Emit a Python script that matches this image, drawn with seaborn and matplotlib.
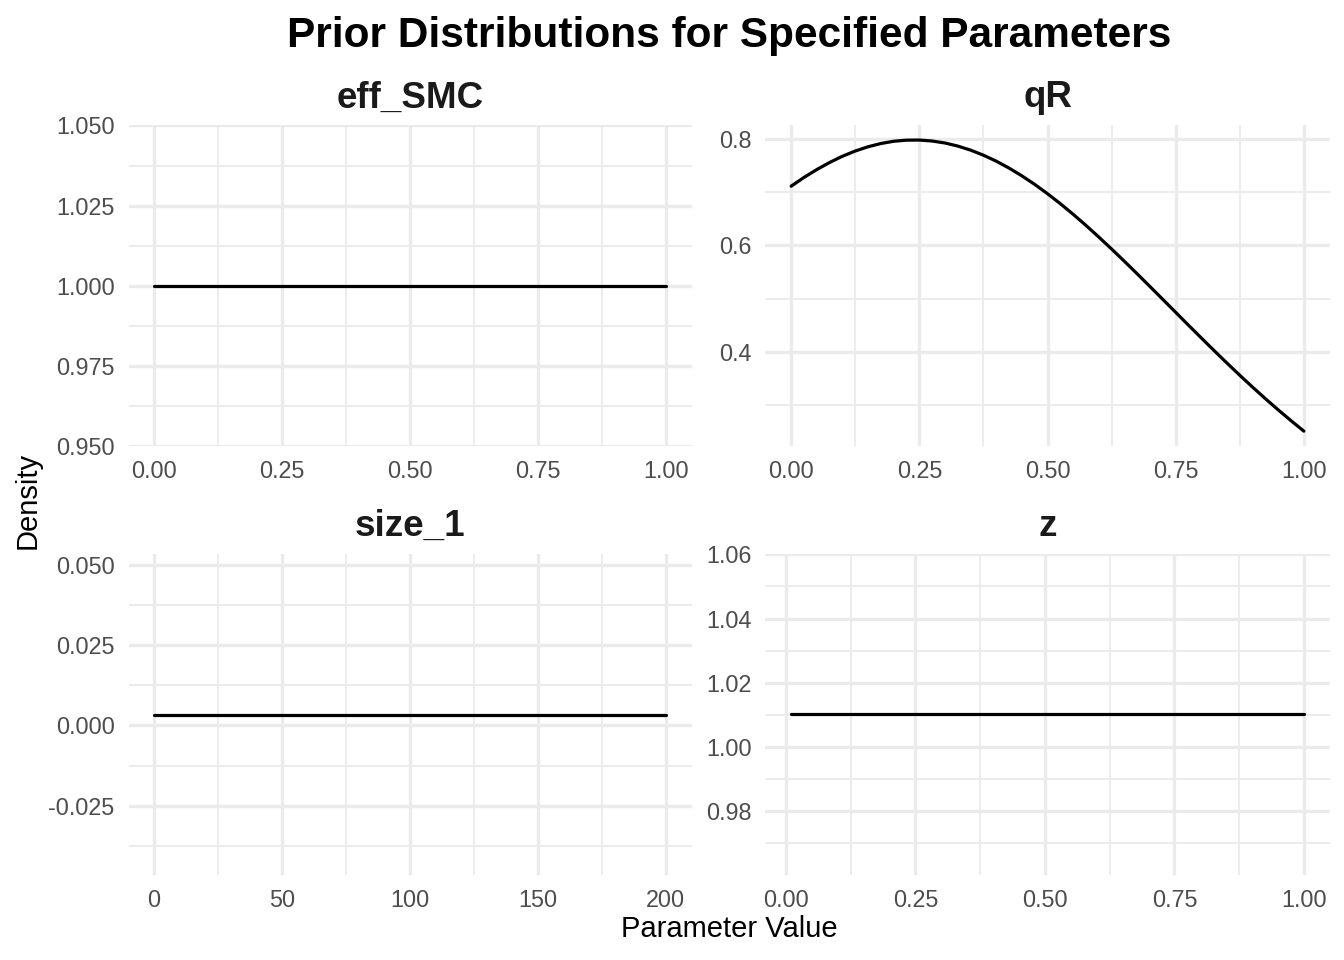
import matplotlib
matplotlib.use("Agg")
import matplotlib.pyplot as plt
from matplotlib.ticker import FixedLocator, FixedFormatter
import pandas as pd
import seaborn as sns

# ---------------- data ----------------
panel_titles = ["eff_SMC", "qR", "size_1", "z"]

eff_x = [0.0, 1.0]
eff_y = [1.0, 1.0]

qr_x = [0.000, 0.025, 0.050, 0.075, 0.100, 0.125, 0.150, 0.175, 0.200, 0.225,
        0.250, 0.275, 0.300, 0.325, 0.350, 0.375, 0.400, 0.425, 0.450, 0.475,
        0.500, 0.525, 0.550, 0.575, 0.600, 0.625, 0.650, 0.675, 0.700, 0.725,
        0.750, 0.775, 0.800, 0.825, 0.850, 0.875, 0.900, 0.925, 0.950, 0.975,
        1.000]
qr_y = [0.7111, 0.7275, 0.7423, 0.7556, 0.7673, 0.7771, 0.7851, 0.7912, 0.7954, 0.7975,
        0.7977, 0.7959, 0.7922, 0.7864, 0.7788, 0.7693, 0.7581, 0.7451, 0.7305, 0.7145,
        0.6970, 0.6783, 0.6584, 0.6375, 0.6157, 0.5932, 0.5701, 0.5465, 0.5226, 0.4985,
        0.4743, 0.4501, 0.4262, 0.4024, 0.3791, 0.3562, 0.3339, 0.3122, 0.2912, 0.2709,
        0.2513]

size_x = [0.0, 200.0]
size_y = [0.0034, 0.0034]

z_x = [0.01, 1.0]
z_y = [1.0101, 1.0101]

# tick values / labels
unit_xticks = [0.0, 0.25, 0.5, 0.75, 1.0]
unit_xlabels = ["0.00", "0.25", "0.50", "0.75", "1.00"]
size_xticks = [0, 50, 100, 150, 200]
size_xlabels = ["0", "50", "100", "150", "200"]

eff_yticks = [0.95, 0.975, 1.0, 1.025, 1.05]
eff_ylabels = ["0.950", "0.975", "1.000", "1.025", "1.050"]
qr_yticks = [0.4, 0.6, 0.8]
qr_ylabels = ["0.4", "0.6", "0.8"]
size_yticks = [-0.025, 0.0, 0.025, 0.05]
size_ylabels = ["-0.025", "0.000", "0.025", "0.050"]
z_yticks = [0.98, 1.0, 1.02, 1.04, 1.06]
z_ylabels = ["0.98", "1.00", "1.02", "1.04", "1.06"]

# ---------------- style ----------------
sns.set_theme(style="white")
plt.rcParams["font.family"] = ["Liberation Sans", "DejaVu Sans"]

W, H = 1344, 960
fig = plt.figure(figsize=(W / 100, H / 100), dpi=100)
fig.patch.set_facecolor("white")


def axes_px(x0, y0, x1, y1):
    return fig.add_axes([x0 / W, 1 - y1 / H, (x1 - x0) / W, (y1 - y0) / H])


boxes = [
    (128.5, 125.5, 691.5, 445.7),
    (765.5, 125.5, 1329.5, 445.7),
    (128.5, 554.0, 691.5, 875.0),
    (765.5, 554.0, 1329.5, 875.0),
]

panels = [
    (eff_x, eff_y, unit_xticks, unit_xlabels, eff_yticks, eff_ylabels),
    (qr_x, qr_y, unit_xticks, unit_xlabels, qr_yticks, qr_ylabels),
    (size_x, size_y, size_xticks, size_xlabels, size_yticks, size_ylabels),
    (z_x, z_y, unit_xticks, unit_xlabels, z_yticks, z_ylabels),
]


def minors(ticks, lo, hi):
    step = ticks[1] - ticks[0]
    out = []
    t = ticks[0] - step / 2
    while t <= hi + 1e-12:
        if t >= lo - 1e-12:
            out.append(t)
        t += step
    return out


for box, title, (xs, ys, xt, xl, yt, yl) in zip(boxes, panel_titles, panels):
    ax = axes_px(*box)
    df = pd.DataFrame({"x": xs, "y": ys})
    sns.lineplot(data=df, x="x", y="y", ax=ax, color="black", linewidth=2.3)

    xmin, xmax = min(xs), max(xs)
    xpad = (xmax - xmin) * 0.05
    ax.set_xlim(xmin - xpad, xmax + xpad)
    ymin, ymax = min(ys), max(ys)
    if ymax - ymin < 1e-12:
        ax.set_ylim(ymin - 0.05, ymax + 0.05)
    else:
        ypad = (ymax - ymin) * 0.05
        ax.set_ylim(ymin - ypad, ymax + ypad)

    lo, hi = ax.get_xlim()
    ax.xaxis.set_major_locator(FixedLocator(xt))
    ax.xaxis.set_major_formatter(FixedFormatter(xl))
    ax.xaxis.set_minor_locator(FixedLocator(minors(xt, lo, hi)))
    lo, hi = ax.get_ylim()
    ax.yaxis.set_major_locator(FixedLocator(yt))
    ax.yaxis.set_major_formatter(FixedFormatter(yl))
    ax.yaxis.set_minor_locator(FixedLocator(minors(yt, lo, hi)))

    ax.grid(which="major", color="#EBEBEB", linewidth=2.4)
    ax.grid(which="minor", color="#EBEBEB", linewidth=1.3)
    ax.set_axisbelow(True)
    for s in ax.spines.values():
        s.set_visible(False)
    ax.tick_params(which="both", length=0)
    ax.tick_params(axis="x", pad=10, labelsize=16.8, labelcolor="#4D4D4D")
    ax.tick_params(axis="y", pad=10, labelsize=16.8, labelcolor="#4D4D4D")
    ax.set_xlabel("")
    ax.set_ylabel("")
    ax.set_facecolor("white")
    ax.set_title(title, fontsize=26.5, fontweight="bold", color="#1A1A1A", pad=13)

fig.text(729.5 / W, 1 - 46.7 / H, "Prior Distributions for Specified Parameters",
         ha="center", va="baseline", fontsize=30.5, fontweight="bold", color="black")
fig.text(729.0 / W, 1 - 937.0 / H, "Parameter Value", ha="center", va="baseline",
         fontsize=21, color="black")
fig.text(28.0 / W, 1 - 500.0 / H, "Density", ha="center", va="center",
         rotation=90, fontsize=21, color="black")

fig.savefig("out.png", dpi=100, facecolor="white")
